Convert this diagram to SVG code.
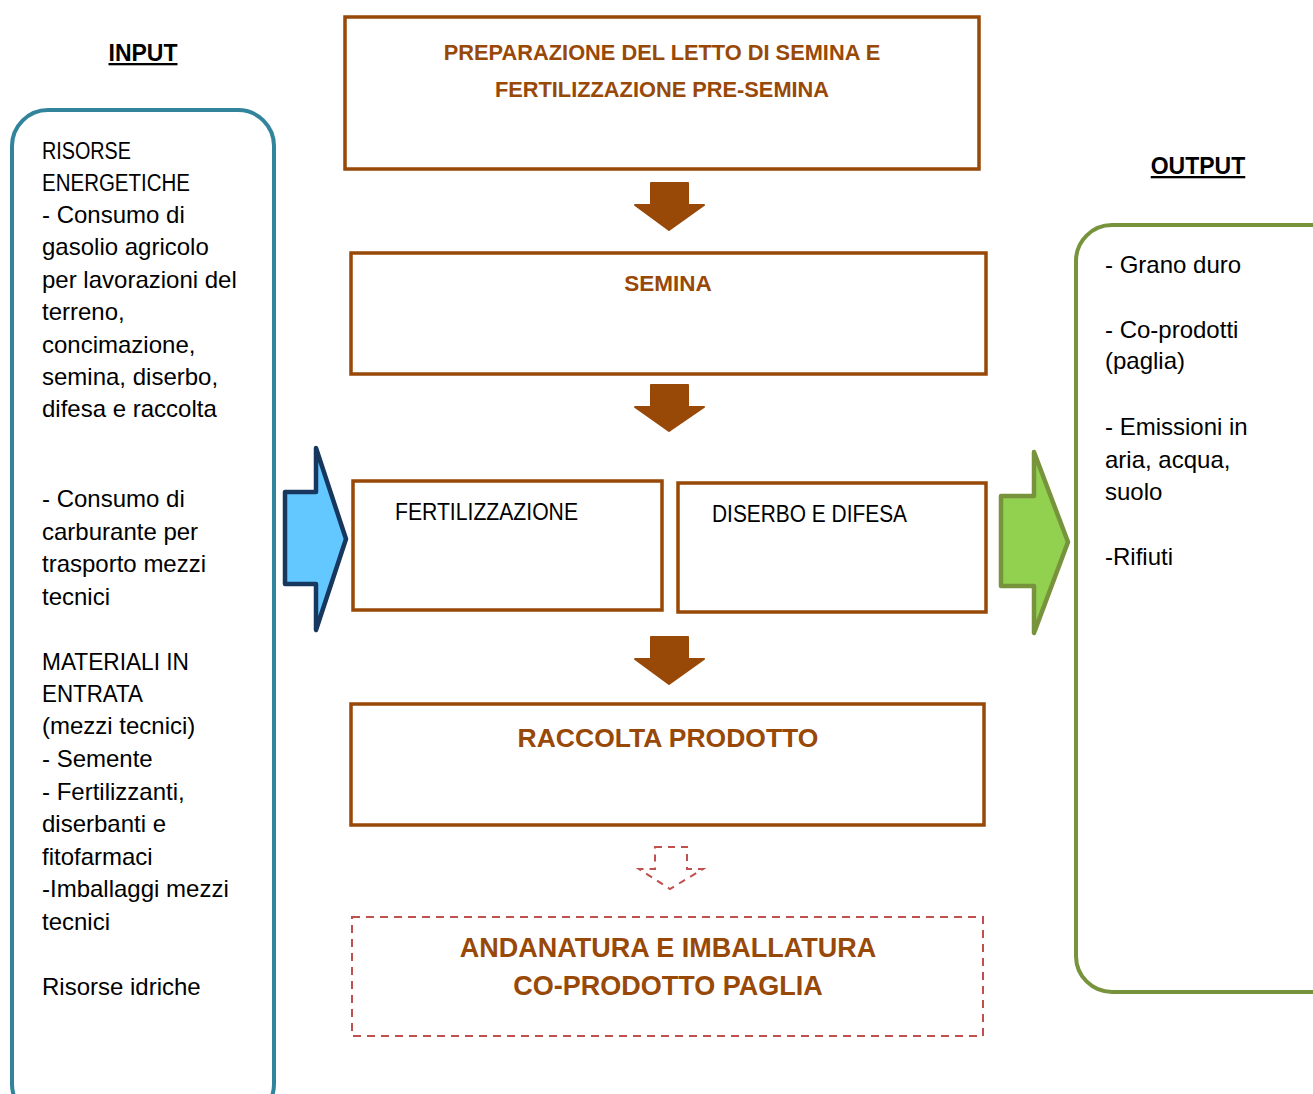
<svg xmlns="http://www.w3.org/2000/svg" width="1313" height="1094" viewBox="0 0 1313 1094">
<defs>
<style>
.t{font-family:"Liberation Sans",Arial,sans-serif;font-size:24px;fill:#000}
.c{font-size:23.5px}
.h{font-family:"Liberation Sans",Arial,sans-serif;font-size:23px;font-weight:bold;fill:#000;text-decoration:underline}
.bt{font-family:"Liberation Sans",Arial,sans-serif;font-weight:bold;fill:#984807;text-anchor:middle}
.box{fill:#fff;stroke:#984807;stroke-width:3.5}
.dn{fill:#984807;stroke:#984807;stroke-width:2;stroke-linejoin:round}
</style>
</defs>
<rect width="1313" height="1094" fill="#fff"/>
<g id="input">
<text class="h" x="143" y="61" text-anchor="middle">INPUT</text>
<rect x="12" y="110" width="262" height="1010" rx="36" fill="#fff" stroke="#31849B" stroke-width="4"/>
<text class="t c" x="42" y="159" textLength="89" lengthAdjust="spacingAndGlyphs">RISORSE</text>
<text class="t c" x="42" y="191" textLength="148" lengthAdjust="spacingAndGlyphs">ENERGETICHE</text>
<text class="t c" x="42" y="670" textLength="147" lengthAdjust="spacingAndGlyphs">MATERIALI IN</text>
<text class="t c" x="42" y="702" textLength="101" lengthAdjust="spacingAndGlyphs">ENTRATA</text>
<text class="t" x="42">
<tspan x="42" y="223">- Consumo di</tspan>
<tspan x="42" y="255">gasolio agricolo</tspan>
<tspan x="42" y="288">per lavorazioni del</tspan>
<tspan x="42" y="320">terreno,</tspan>
<tspan x="42" y="353">concimazione,</tspan>
<tspan x="42" y="385">semina, diserbo,</tspan>
<tspan x="42" y="417">difesa e raccolta</tspan>
<tspan x="42" y="507">- Consumo di</tspan>
<tspan x="42" y="540">carburante per</tspan>
<tspan x="42" y="572">trasporto mezzi</tspan>
<tspan x="42" y="605">tecnici</tspan>
<tspan x="42" y="734">(mezzi tecnici)</tspan>
<tspan x="42" y="767">- Semente</tspan>
<tspan x="42" y="800">- Fertilizzanti,</tspan>
<tspan x="42" y="832">diserbanti e</tspan>
<tspan x="42" y="865">fitofarmaci</tspan>
<tspan x="42" y="897">-Imballaggi mezzi</tspan>
<tspan x="42" y="930">tecnici</tspan>
<tspan x="42" y="995">Risorse idriche</tspan>
</text>
</g>
<g id="output">
<text class="h" x="1198" y="174" text-anchor="middle">OUTPUT</text>
<rect x="1076" y="225" width="280" height="767" rx="36" fill="#fff" stroke="#77933C" stroke-width="4"/>
<text class="t">
<tspan x="1105" y="273">- Grano duro</tspan>
<tspan x="1105" y="338">- Co-prodotti</tspan>
<tspan x="1105" y="369">(paglia)</tspan>
<tspan x="1105" y="435">- Emissioni in</tspan>
<tspan x="1105" y="468">aria, acqua,</tspan>
<tspan x="1105" y="500">suolo</tspan>
<tspan x="1105" y="565">-Rifiuti</tspan>
</text>
</g>
<g id="preparazione">
<rect class="box" x="345" y="17" width="634" height="152"/>
<text class="bt" x="662" y="60" font-size="21.8">PREPARAZIONE DEL LETTO DI SEMINA E</text>
<text class="bt" x="662" y="97" font-size="21.8">FERTILIZZAZIONE PRE-SEMINA</text>
</g>
<g id="semina">
<rect class="box" x="351" y="253" width="635" height="121"/>
<text class="bt" x="668" y="291" font-size="22.5">SEMINA</text>
</g>
<g id="fertilizzazione">
<rect class="box" x="353" y="481" width="309" height="129"/>
<text class="t c" x="395" y="520" textLength="183" lengthAdjust="spacingAndGlyphs">FERTILIZZAZIONE</text>
</g>
<g id="diserbo">
<rect class="box" x="678" y="483" width="308" height="129"/>
<text class="t c" x="712" y="522" textLength="195" lengthAdjust="spacingAndGlyphs">DISERBO E DIFESA</text>
</g>
<g id="raccolta">
<rect class="box" x="351" y="704" width="633" height="121"/>
<text class="bt" x="668" y="747" font-size="26.5">RACCOLTA PRODOTTO</text>
</g>
<g id="andanatura">
<rect x="352" y="917" width="631" height="119" fill="#fff" stroke="#C0504D" stroke-width="2" stroke-dasharray="8,6"/>
<text class="bt" x="668" y="957" font-size="27">ANDANATURA E IMBALLATURA</text>
<text class="bt" x="668" y="995" font-size="27">CO-PRODOTTO PAGLIA</text>
</g>
<g id="connectors">
<polygon class="dn" points="651,183 688,183 688,205 704,205 669,230 635,205 651,205"/>
<polygon class="dn" points="651,385 688,385 688,407 704,407 669,431 635,407 651,407"/>
<polygon class="dn" points="651,637 688,637 688,659 704,659 669,684 635,659 651,659"/>
<polygon points="655,847 687,847 687,869 703,869 670,889 639,869 655,869" fill="#fff" stroke="#C0504D" stroke-width="2" stroke-dasharray="7,6"/>
<polygon points="285,492 316,492 316,448 346,539 316,630 316,584 285,584" fill="#63C8FF" stroke="#17375E" stroke-width="4.5" stroke-linejoin="round"/>
<polygon points="1001,496 1034,496 1034,452 1068,542 1034,633 1034,586 1001,586" fill="#92D050" stroke="#77933C" stroke-width="4.5" stroke-linejoin="round"/>
</g>
</svg>
